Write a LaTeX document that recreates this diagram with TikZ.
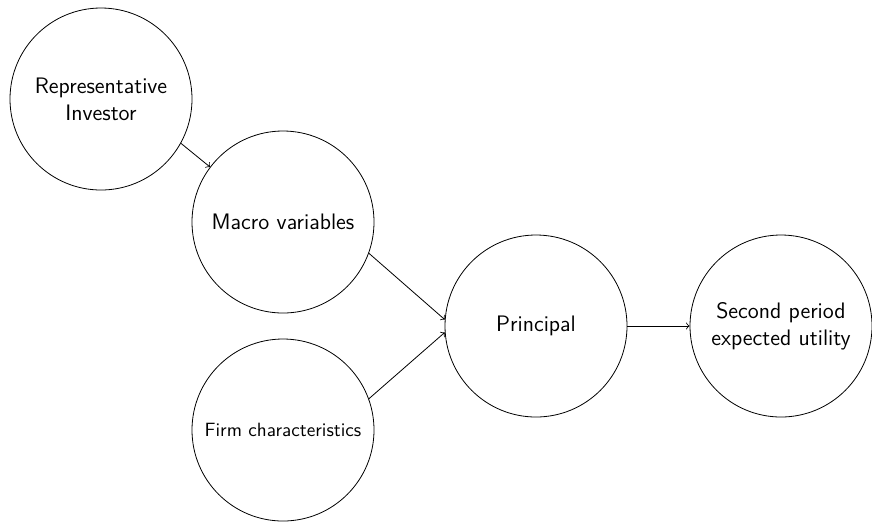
\documentclass[tikz,border=0pt]{standalone}
\usepackage{fontspec}
\usepackage{tikz}

\begin{document}
\begin{tikzpicture}[x=0.5pt,y=0.5pt,font=\sffamily\fontsize{11.2}{13.6}\selectfont,
    bubble/.style={circle,draw,minimum size=91pt,inner sep=0pt,align=center}]
    \useasboundingbox (0,0) rectangle (872,-521);
    \node[bubble] (R1) at (101,-99) {Representative\\Investor};
    \node[bubble] (M1) at (283,-222) {Macro variables};
    \node[bubble,font=\sffamily\fontsize{9.6}{11.5}\selectfont] (F1) at (283,-430) {Firm characteristics};
    \node[bubble] (P1) at (536,-326) {Principal};
    \node[bubble] (S1) at (781,-326) {Second period\\expected utility};
    \draw [->] (R1.-29)--(M1.143);
    \draw [->] (M1.-20)--(P1.176);
    \draw [->] (F1.20)--(P1.184);
    \draw [->] (P1.east)--(S1.west);
\end{tikzpicture}
\end{document}
